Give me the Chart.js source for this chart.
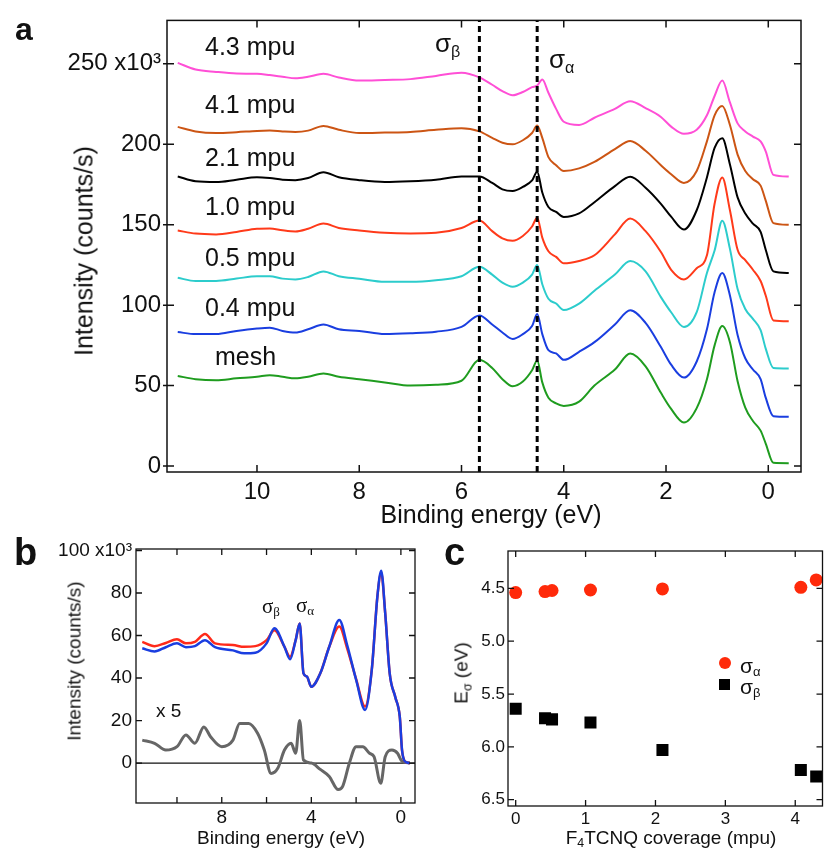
<!DOCTYPE html>
<html>
<head>
<meta charset="utf-8">
<script src="https://cdn.jsdelivr.net/npm/chart.js@4.4.1/dist/chart.umd.min.js"></script>
<style>
body { margin: 0; background: #fff; }
#fig { position: relative; width: 831px; height: 849px; overflow: hidden; font-family: "Liberation Sans", Arial, sans-serif; color: #111; }
#fig canvas { position: absolute; }
.lbl { position: absolute; white-space: nowrap; line-height: 1; transform: translateY(-50%); }
.lbl sub { font-size: 0.62em; vertical-align: -0.3em; line-height: 0; }
.panel { position: absolute; font-weight: bold; line-height: 1; }
.serif { font-family: "Liberation Serif", "DejaVu Serif", serif; }
.rot { position: absolute; white-space: nowrap; line-height: 1; transform: translate(-50%, -50%) rotate(-90deg); }
.ctr { position: absolute; white-space: nowrap; line-height: 1; transform: translate(-50%, -50%); }
.rot sub, .ctr sub { font-size: 0.65em; vertical-align: -0.3em; line-height: 0; }
</style>
</head>
<body>
<div id="fig">
  <canvas id="chartA" width="831" height="540" style="left:0px;top:0px"></canvas>
  <canvas id="chartB" width="430" height="319" style="left:0px;top:530px"></canvas>
  <canvas id="chartC" width="401" height="319" style="left:430px;top:530px"></canvas>

  <div class="panel" style="left:15px;top:13px;font-size:32px">a</div>
  <div class="panel" style="left:14px;top:533px;font-size:38px">b</div>
  <div class="panel" style="left:444px;top:533px;font-size:38px">c</div>

  <!-- axis titles -->
  <div class="rot" style="left:84px;top:251px;font-size:25px">Intensity (counts/s)</div>
  <div class="ctr" style="left:491px;top:514px;font-size:25px">Binding energy (eV)</div>
  <div class="rot" style="left:74px;top:661px;font-size:19px">Intensity (counts/s)</div>
  <div class="ctr" style="left:281px;top:837px;font-size:19px">Binding energy (eV)</div>
  <div class="rot" style="left:461px;top:673px;font-size:19px">E<sub>σ</sub> (eV)</div>
  <div class="ctr" style="left:671px;top:837px;font-size:19px">F<sub>4</sub>TCNQ coverage (mpu)</div>

  <!-- panel a labels -->
  <div class="lbl" style="left:205px;top:46px;font-size:25px">4.3 mpu</div>
  <div class="lbl" style="left:205px;top:104px;font-size:25px">4.1 mpu</div>
  <div class="lbl" style="left:205px;top:157px;font-size:25px">2.1 mpu</div>
  <div class="lbl" style="left:205px;top:206px;font-size:25px">1.0 mpu</div>
  <div class="lbl" style="left:205px;top:257px;font-size:25px">0.5 mpu</div>
  <div class="lbl" style="left:205px;top:307px;font-size:25px">0.4 mpu</div>
  <div class="lbl" style="left:215px;top:356px;font-size:25px">mesh</div>
  <div class="lbl" style="left:435px;top:43px;font-size:26px">σ<sub>β</sub></div>
  <div class="lbl" style="left:549px;top:59px;font-size:26px">σ<sub>α</sub></div>

  <!-- panel b labels -->
  <div class="lbl serif" style="left:262px;top:606px;font-size:21px">σ<sub>β</sub></div>
  <div class="lbl serif" style="left:296px;top:605px;font-size:21px">σ<sub>α</sub></div>
  <div class="lbl" style="left:156px;top:710px;font-size:19px">x 5</div>

  <!-- panel c legend -->
  <div style="position:absolute;left:719px;top:657px;width:12px;height:12px;border-radius:50%;background:#ff2a0a"></div>
  <div class="lbl" style="left:740px;top:665px;font-size:21px">σ<sub>α</sub></div>
  <div style="position:absolute;left:719px;top:679px;width:11px;height:11px;background:#000"></div>
  <div class="lbl" style="left:740px;top:686px;font-size:21px">σ<sub>β</sub></div>
</div>

<script>
// ---- panel a: spectra vs coverage (values in 10^3 counts/s) ----
const aEnergy = [11.55, 11.2, 10.8, 10.4, 10.0, 9.75, 9.5, 9.25, 9.0, 8.7, 8.4, 8.0, 7.5, 7.0, 6.5, 6.0,
  5.65, 5.4, 5.2, 5.0, 4.8, 4.62, 4.52, 4.42, 4.3, 4.15, 4.0, 3.7, 3.4, 3.0, 2.7, 2.4, 2.1, 1.9, 1.65,
  1.4, 1.2, 1.05, 0.9, 0.75, 0.6, 0.45, 0.3, 0.15, 0.05, -0.1, -0.4];

const mesh = [56, 54, 53.3, 54.5, 55.5, 56.5, 55.5, 54.5, 55.5, 57.6, 55.5, 53.9, 52, 50, 50.5, 53,
  66, 61, 54, 49.6, 52.5, 59.5, 65.6, 52, 42.5, 39, 37.4, 40, 50, 60, 69.9, 62, 45.5, 35.5, 27,
  36, 54, 75, 87, 77, 52.7, 36.3, 28, 22, 14, 2, 1.8];
const cov04 = [83.3, 82, 82, 84, 85.5, 86, 84, 83, 85, 88, 85, 84, 82, 82.5, 83.5, 86.5,
  93.6, 88, 83, 79, 82, 87, 94.5, 82, 72, 70, 66, 71, 77, 88, 96.8, 89, 74, 63, 55,
  65, 85, 108, 120, 106, 81.5, 67, 60, 54, 42.5, 31, 30.6];
const cov05 = [117, 115, 115, 116.5, 118, 118, 116.5, 116, 117.5, 121, 118, 116.4, 114.5, 114.5, 115.5, 118,
  123.8, 119, 114, 111.5, 114, 119, 125, 113, 104, 101, 97, 101, 109, 119, 127.4, 121, 105, 95.6, 86.4,
  95.6, 120, 134, 152.5, 135, 110, 97.6, 91.5, 84.5, 73, 61, 60.7];
const cov10 = [146.4, 144.5, 144, 145.5, 147.5, 147.7, 146.5, 145.8, 147.5, 150.7, 148, 146.4, 145, 144.6, 145, 148,
  152.6, 146, 141.5, 140, 143, 148.9, 154.4, 142, 133.5, 130, 126, 127.5, 131, 144, 153.8, 146, 133, 122, 116,
  123, 131, 163, 179.4, 159, 134.4, 128, 122, 115, 106, 90.5, 90];
const cov21 = [180, 177, 176.5, 178, 179.5, 179, 178, 177.7, 179, 182.6, 179.5, 177.7, 176.5, 177, 178, 180,
  180, 176, 172, 171, 173.5, 177.5, 183, 170, 161, 158, 154.8, 157, 164, 174, 179.8, 173, 163, 155, 147,
  159, 179.4, 197.7, 203.8, 187.5, 167, 157, 150.7, 145.6, 134.4, 121, 120];
const cov41 = [210.8, 208, 207, 207.5, 208.3, 208.5, 208, 207.7, 208.5, 211.4, 209, 207, 207.3, 207.7, 209, 210,
  208, 204, 201, 200, 202.5, 207, 211.6, 204, 192, 187, 183.4, 185, 189, 197, 202, 196, 187, 181.4, 176,
  183.4, 201.8, 218, 223.8, 212, 193.6, 183.4, 178.3, 174.3, 165, 151, 150];
const cov43 = [250.6, 246.5, 245, 244, 243.8, 243, 242, 241, 242, 243.8, 241.5, 239.6, 240, 240.5, 242.5, 244.5,
  241.6, 237, 233, 230.5, 232.5, 235.5, 236.5, 240.2, 232, 222, 214, 212, 216.5, 222, 226.7, 222.5, 217, 211, 206.5,
  209, 218, 230, 239.6, 226, 213, 208, 204.8, 201.8, 195.6, 181, 180];

const aSeries = [cov43, cov41, cov21, cov10, cov05, cov04, mesh];
const aColors = ['#ff4fd6', '#cc5514', '#000000', '#ff3a1a', '#2ccccc', '#1a3ee0', '#1f9c1f'];
const sigmaLines = [5.65, 4.52];
const aXTicks = [10, 8, 6, 4, 2, 0];
const aYTicks = [0, 50, 100, 150, 200, 250];

// ---- panel b: spectra and difference x5 ----
const bEnergy = [11.55, 11.0, 10.5, 10.0, 9.6, 9.2, 8.75, 8.3, 7.5, 7.0, 6.5, 6.0, 5.65, 5.2, 4.95, 4.7,
  4.52, 4.35, 4.2, 4.0, 3.6, 3.2, 2.75, 2.4, 2.0, 1.6, 1.3, 1.05, 0.88, 0.7, 0.5, 0.25, 0.05, -0.05, -0.2, -0.4];
const bRed = [57, 55, 56.5, 58.2, 56.3, 57, 60.7, 56.3, 55.5, 54.7, 55, 57.8, 62.5, 54.7, 50, 57.8,
  65.7, 42.2, 40.7, 35.9, 42.2, 54.7, 64.2, 54, 39.5, 26.6, 43.9, 78.3, 89.5, 70.4, 42.2, 31, 21.8, 6.1, 0.6, 0];
const bBlue = [54, 52.5, 54.5, 56.3, 54.5, 55, 57.8, 54.5, 53, 51.6, 51.9, 56.3, 63.4, 54.7, 48.8, 57.8,
  65.7, 42.2, 40.7, 35.9, 42.2, 54.7, 67.3, 55.5, 39.2, 25, 43.9, 78.3, 90.5, 70.4, 42.2, 31, 21.8, 6.1, 0.6, 0];
const diffEnergy = [11.55, 11.0, 10.5, 10.0, 9.6, 9.2, 8.8, 8.5, 8.0, 7.5, 7.2, 6.8, 6.4, 6.1, 5.8, 5.5,
  5.2, 4.9, 4.7, 4.52, 4.35, 4.0, 3.6, 3.2, 2.8, 2.6, 2.3, 2.0, 1.7, 1.4, 1.2, 0.9, 0.7, 0.4, 0.15, -0.05, -0.4];
const diffX5 = [10.8, 9.3, 6.1, 7.7, 13.2, 9.3, 17, 12.4, 7.7, 10.8, 18.6, 18.6, 14, 6.1, -4.9, -2.5,
  6.1, 9.3, 4.6, 20, 1.4, 0, -3, -6.3, -12.5, -11, 0, 7.7, 7.7, 4.6, 3, -9.5, 3, 6.1, 4.6, 0.8, 0];
const bXTicks = [10, 8, 6, 4, 2, 0];
const bXLabels = [8, 4, 0];
const bYTicks = [0, 20, 40, 60, 80, 100];

// ---- panel c: peak positions vs coverage ----
const coverage = [0, 0.42, 0.52, 1.07, 2.1, 4.08, 4.3];
const sigmaAlpha = [4.54, 4.53, 4.52, 4.515, 4.505, 4.49, 4.42];
const sigmaBeta = [5.64, 5.73, 5.74, 5.77, 6.03, 6.22, 6.28];
const cXTicks = [0, 1, 2, 3, 4];
const cYTicks = [4.5, 5.0, 5.5, 6.0, 6.5];

Chart.defaults.font.family = '"Liberation Sans", Arial, sans-serif';
Chart.defaults.color = '#111';

// box round the plot area plus ticks on all four sides
const frameTicks = {
    id: 'frameTicks',
    afterDraw(chart, args, opts) {
        const {ctx, chartArea: a} = chart;
        const len = opts.len || 7;
        const out = opts.out || 0;
        const xs = chart.scales.x, ys = chart.scales.y;
        ctx.save();
        ctx.strokeStyle = '#111';
        ctx.lineWidth = opts.width || 1.5;
        ctx.strokeRect(a.left, a.top, a.right - a.left, a.bottom - a.top);
        ctx.beginPath();
        xs.ticks.forEach(t => {
            const px = xs.getPixelForValue(t.value);
            ctx.moveTo(px, a.bottom); ctx.lineTo(px, a.bottom - len);
            ctx.moveTo(px, a.top); ctx.lineTo(px, a.top + len);
        });
        ys.ticks.forEach(t => {
            const py = ys.getPixelForValue(t.value);
            ctx.moveTo(a.left - out, py); ctx.lineTo(a.left + len, py);
            ctx.moveTo(a.right, py); ctx.lineTo(a.right - len, py);
        });
        ctx.stroke();
        ctx.restore();
    }
};

function fixedTicks(values) {
    return scale => { scale.ticks = values.map(v => ({value: v})); };
}
function toPoints(xs, ys) {
    return xs.map((x, i) => ({x: x, y: ys[i]}));
}
function spectrum(xs, ys, color, width) {
    return {
        data: toPoints(xs, ys),
        borderColor: color,
        borderWidth: width,
        pointRadius: 0,
        cubicInterpolationMode: 'monotone',
        fill: false
    };
}

//#region panel a
const aRange = {xMin: -0.64, xMax: 11.76, yMin: -3.7, yMax: 277};
const aDatasets = sigmaLines.map(e => ({
    data: [{x: e, y: aRange.yMin}, {x: e, y: aRange.yMax}],
    borderColor: '#000',
    borderWidth: 3,
    borderDash: [6, 4],
    pointRadius: 0
}));
aSeries.forEach((s, i) => aDatasets.push(spectrum(aEnergy, s, aColors[i], 2)));

new Chart(document.getElementById('chartA'), {
    type: 'line',
    data: {datasets: aDatasets},
    options: {
        responsive: false,
        animation: false,
        events: [],
        layout: {padding: {left: 0, right: 30, top: 14, bottom: 0}},
        plugins: {legend: {display: false}, tooltip: {enabled: false}, frameTicks: {len: 7, width: 1.5, out: 4}},
        scales: {
            x: {
                type: 'linear', reverse: true, min: aRange.xMin, max: aRange.xMax,
                grid: {display: false, drawTicks: false}, border: {display: false},
                afterBuildTicks: fixedTicks(aXTicks),
                afterFit: s => { s.height = 68; },
                ticks: {font: {size: 24}, padding: 6, maxRotation: 0, color: '#111'}
            },
            y: {
                min: aRange.yMin, max: aRange.yMax,
                grid: {display: false, drawTicks: false}, border: {display: false},
                afterBuildTicks: fixedTicks(aYTicks),
                afterFit: s => { s.width = 167; },
                ticks: {font: {size: 24}, padding: 6, color: '#111',
                    callback: v => v === 250 ? '250 x10³' : String(v)}
            }
        }
    },
    plugins: [frameTicks]
});
//#endregion

//#region panel b
const bRange = {xMin: -0.63, xMax: 11.83, yMin: -18.8, yMax: 100.7};
new Chart(document.getElementById('chartB'), {
    type: 'line',
    data: {
        datasets: [
            spectrum(bEnergy, bBlue, '#1a3ee0', 2.5),
            spectrum(bEnergy, bRed, '#ff2a1a', 2.5),
            spectrum(diffEnergy, diffX5, '#666666', 3),
            {data: [{x: bRange.xMax, y: 0}, {x: bRange.xMin, y: 0}], borderColor: '#111', borderWidth: 1.2, pointRadius: 0}
        ]
    },
    options: {
        responsive: false,
        animation: false,
        events: [],
        layout: {padding: {left: 0, right: 15, top: 19, bottom: 0}},
        plugins: {legend: {display: false}, tooltip: {enabled: false}, frameTicks: {len: 6, width: 1.3}},
        scales: {
            x: {
                type: 'linear', reverse: true, min: bRange.xMin, max: bRange.xMax,
                grid: {display: false, drawTicks: false}, border: {display: false},
                afterBuildTicks: fixedTicks(bXTicks),
                afterFit: s => { s.height = 46; },
                ticks: {font: {size: 19}, padding: 3, maxRotation: 0, autoSkip: false, color: '#111',
                    callback: v => bXLabels.includes(v) ? String(v) : ''}
            },
            y: {
                min: bRange.yMin, max: bRange.yMax,
                grid: {display: false, drawTicks: false}, border: {display: false},
                afterBuildTicks: fixedTicks(bYTicks),
                afterFit: s => { s.width = 136; },
                ticks: {font: {size: 19}, padding: 4, color: '#111',
                    callback: v => v === 100 ? '100 x10³' : String(v)}
            }
        }
    },
    plugins: [frameTicks]
});
//#endregion

//#region panel c
new Chart(document.getElementById('chartC'), {
    type: 'scatter',
    data: {
        datasets: [
            {data: toPoints(coverage, sigmaAlpha), pointStyle: 'circle', pointRadius: 6.5,
                backgroundColor: '#ff2a0a', borderColor: '#ff2a0a', borderWidth: 0},
            {data: toPoints(coverage, sigmaBeta), pointStyle: 'rect', pointRadius: 8.5,
                backgroundColor: '#000', borderColor: '#000', borderWidth: 0}
        ]
    },
    options: {
        responsive: false,
        animation: false,
        events: [],
        layout: {padding: {left: 0, right: 2, top: 21, bottom: 0}},
        plugins: {legend: {display: false}, tooltip: {enabled: false}, frameTicks: {len: 6, width: 1.3}},
        scales: {
            x: {
                type: 'linear', min: -0.11, max: 4.39,
                grid: {display: false, drawTicks: false}, border: {display: false},
                afterBuildTicks: fixedTicks(cXTicks),
                afterFit: s => { s.height = 43; },
                ticks: {font: {size: 17}, padding: 3, maxRotation: 0, color: '#111'}
            },
            y: {
                reverse: true, min: 4.146, max: 6.56,
                grid: {display: false, drawTicks: false}, border: {display: false},
                afterBuildTicks: fixedTicks(cYTicks),
                afterFit: s => { s.width = 78; },
                ticks: {font: {size: 17}, padding: 3, color: '#111', callback: v => v.toFixed(1)}
            }
        }
    },
    plugins: [frameTicks]
});
//#endregion
</script>
</body>
</html>
